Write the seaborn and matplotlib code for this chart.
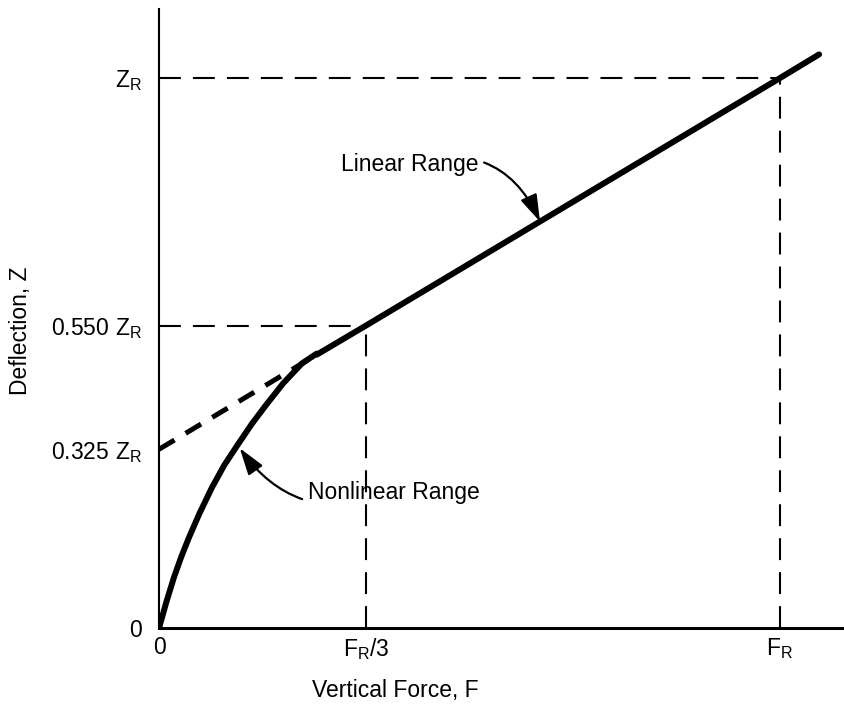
import numpy as np
import pandas as pd
import matplotlib
matplotlib.use("Agg")
import matplotlib.pyplot as plt
import seaborn as sns

# values in units of F_R (x) and Z_R (y)
nonlin_F = [0, 0.012, 0.024, 0.036, 0.048, 0.065, 0.085, 0.105, 0.126, 0.15, 0.172, 0.2, 0.23, 0.254]
nonlin_Z = [0, 0.048, 0.092, 0.13, 0.164, 0.208, 0.255, 0.296, 0.332, 0.372, 0.405, 0.445, 0.481, 0.499]
lin_F = [0.254, 1 / 3, 1.0, 1.063]
lin_Z = [0.497, 0.55, 1.0, 1.043]
ext_F = [0, 0.254]
ext_Z = [0.325, 0.497]

# guide lines (dashed)
guide_F = [[0, 1.0], [1.0, 1.0], [0, 1 / 3], [1 / 3, 1 / 3]]
guide_Z = [[1.0, 1.0], [0, 1.0], [0.55, 0.55], [0, 0.55]]

xtick_pos = [0, 1 / 3, 1.0]
xtick_labels = ["0", r"$\mathregular{F_R/3}$", r"$\mathregular{F_R}$"]
ytick_pos = [0, 0.325, 0.55, 1.0]
ytick_labels = ["0", r"$\mathregular{0.325\ Z_R}$", r"$\mathregular{0.550\ Z_R}$", r"$\mathregular{Z_R}$"]


def main():
    sns.set_theme(style="white")
    plt.rcParams["font.family"] = ["Liberation Sans", "DejaVu Sans"]
    plt.rcParams["mathtext.fontset"] = "custom"
    plt.rcParams["mathtext.rm"] = "Liberation Sans"
    plt.rcParams["text.color"] = "black"
    plt.rcParams["axes.labelcolor"] = "black"
    plt.rcParams["xtick.color"] = "black"
    plt.rcParams["ytick.color"] = "black"

    fs = 16.5
    fig = plt.figure(figsize=(8.45, 7.05), dpi=100)
    ax = fig.add_axes([0.1882, 0.1092, 0.8118, 0.878])

    for gf, gz in zip(guide_F, guide_Z):
        sns.lineplot(x=gf, y=gz, ax=ax, color="black", linewidth=1.5,
                     sort=False, estimator=None)
        ax.lines[-1].set_dashes((10.5, 5.8))

    sns.lineplot(x=ext_F, y=ext_Z, ax=ax, color="black", linewidth=3.6,
                 sort=False, estimator=None)
    ax.lines[-1].set_dashes((3.6, 2.6))

    sns.lineplot(x=nonlin_F, y=nonlin_Z, ax=ax, color="black", linewidth=4.3,
                 sort=False, estimator=None)
    sns.lineplot(x=lin_F, y=lin_Z, ax=ax, color="black", linewidth=4.3,
                 sort=False, estimator=None)
    for ln in ax.lines:
        ln.set_solid_capstyle("round")
        ln.set_solid_joinstyle("round")

    ax.annotate("Linear Range", xy=(0.6135, 0.739), xytext=(0.514, 0.842),
                ha="right", va="center", fontsize=fs,
                arrowprops=dict(arrowstyle="-|>,head_length=1.0,head_width=0.32",
                                color="black", lw=1.6,
                                connectionstyle="arc3,rad=-0.45",
                                shrinkA=2, shrinkB=0))
    ax.annotate("Nonlinear Range", xy=(0.130, 0.327), xytext=(0.240, 0.247),
                ha="left", va="center", fontsize=fs,
                arrowprops=dict(arrowstyle="-|>,head_length=1.0,head_width=0.32",
                                color="black", lw=1.6,
                                connectionstyle="arc3,rad=-0.4",
                                shrinkA=2, shrinkB=0))

    ax.set_xlim(0, 1.1047)
    ax.set_ylim(0, 1.1255)
    ax.set_xticks(xtick_pos)
    ax.set_xticklabels(xtick_labels, fontsize=fs)
    ax.set_yticks(ytick_pos)
    ax.set_yticklabels(ytick_labels, fontsize=fs)
    ax.tick_params(axis="both", length=0)
    ax.tick_params(axis="y", pad=12)
    ax.tick_params(axis="x", pad=6)

    ax.set_xlabel("Vertical Force, F", fontsize=fs)
    ax.set_ylabel("Deflection, Z", fontsize=fs)
    ax.xaxis.set_label_coords(0.344, -0.082)
    ax.yaxis.set_label_coords(-0.185, 0.48)

    for side in ["top", "right"]:
        ax.spines[side].set_visible(False)
    ax.spines["left"].set_color("black")
    ax.spines["left"].set_linewidth(1.5)
    ax.spines["bottom"].set_color("black")
    ax.spines["bottom"].set_linewidth(2.2)
    ax.grid(False)

    fig.savefig("out.png", dpi=100)
    plt.close()


if __name__ == "__main__":
    main()
